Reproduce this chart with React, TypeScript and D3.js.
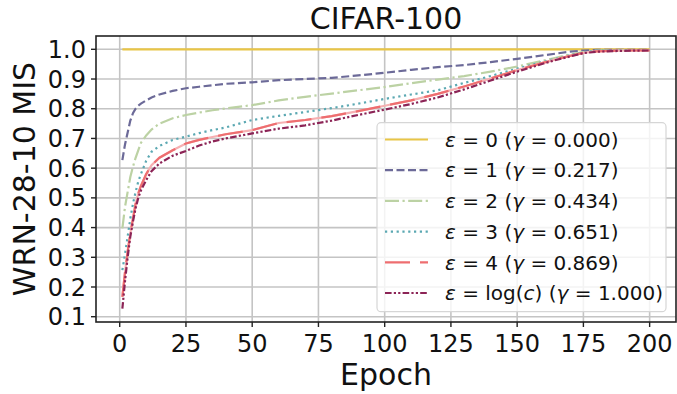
import * as d3 from 'd3';
import React from 'react';

const epochs = [1, 2, 3, 4, 5, 6, 7, 8, 10, 12, 15, 20, 25, 30, 35, 40, 50, 60, 70, 80, 90, 100, 110, 120, 130, 140, 150, 160, 165, 170, 175, 180, 190, 200];

const eps0 = [1, 1, 1, 1, 1, 1, 1, 1, 1, 1, 1, 1, 1, 1, 1, 1, 1, 1, 1, 1, 1, 1, 1, 1, 1, 1, 1, 1, 1, 1, 1, 1, 1, 1];
const eps1 = [0.627, 0.68, 0.72, 0.76, 0.785, 0.8, 0.81, 0.817, 0.828, 0.838, 0.848, 0.86, 0.869, 0.874, 0.879, 0.884, 0.889, 0.896, 0.9, 0.904, 0.912, 0.921, 0.931, 0.94, 0.947, 0.957, 0.968, 0.98, 0.986, 0.992, 0.996, 0.998, 0.998, 0.998];
const eps2 = [0.397, 0.47, 0.52, 0.57, 0.605, 0.635, 0.66, 0.685, 0.71, 0.73, 0.75, 0.768, 0.779, 0.787, 0.795, 0.801, 0.812, 0.828, 0.84, 0.851, 0.862, 0.873, 0.886, 0.898, 0.91, 0.925, 0.942, 0.962, 0.972, 0.983, 0.991, 0.996, 0.997, 0.997];
const eps3 = [0.257, 0.31, 0.37, 0.43, 0.48, 0.52, 0.555, 0.58, 0.625, 0.655, 0.675, 0.695, 0.706, 0.718, 0.728, 0.737, 0.762, 0.776, 0.789, 0.802, 0.817, 0.833, 0.848, 0.862, 0.887, 0.91, 0.935, 0.958, 0.969, 0.98, 0.99, 0.995, 0.997, 0.997];
const eps4 = [0.167, 0.25, 0.32, 0.38, 0.43, 0.48, 0.515, 0.54, 0.58, 0.61, 0.635, 0.66, 0.683, 0.695, 0.705, 0.714, 0.728, 0.752, 0.762, 0.775, 0.792, 0.81, 0.828, 0.85, 0.875, 0.902, 0.93, 0.955, 0.967, 0.978, 0.988, 0.993, 0.996, 0.996];
const epsLog = [0.127, 0.22, 0.3, 0.37, 0.42, 0.465, 0.5, 0.525, 0.56, 0.59, 0.616, 0.642, 0.658, 0.676, 0.69, 0.7, 0.717, 0.733, 0.744, 0.76, 0.779, 0.797, 0.816, 0.838, 0.865, 0.895, 0.925, 0.952, 0.965, 0.976, 0.987, 0.992, 0.995, 0.996];

const epsLabels = ['0', '1', '2', '3', '4', 'log'];
const gammaLabels = ['0.000', '0.217', '0.434', '0.651', '0.869', '1.000'];
const xTicks = [0, 25, 50, 75, 100, 125, 150, 175, 200];
const yTicks = [0.1, 0.2, 0.3, 0.4, 0.5, 0.6, 0.7, 0.8, 0.9, 1.0];

const W = 677;
const H = 394;
const m = { left: 96, right: 676, top: 36, bottom: 322 };
const font = 'DejaVu Sans';

const series = [
    { values: eps0, color: '#e8c547', dash: null },
    { values: eps1, color: '#6c6a98', dash: '8,3.5' },
    { values: eps2, color: '#bcd2a4', dash: '14,3.5,2.2,3.5' },
    { values: eps3, color: '#5ba8b2', dash: '2.2,3.6' },
    { values: eps4, color: '#ee6e70', dash: '25,10', under: '#f6b0b2' },
    { values: epsLog, color: '#8c2456', dash: '6.6,2.2,2.2,2.2,2.2,2.2' },
];

export default () => {
    const x = d3.scaleLinear().domain([-8.95, 209.95]).range([m.left, m.right]);
    const y = d3.scaleLinear().domain([0.0822, 1.0448]).range([m.bottom, m.top]);

    const line = d3.line<number>()
        .x((_, i) => x(epochs[i]))
        .y((d) => y(d));

    const legendX = 377;
    const legendY = 122.7;
    const rowY = (i: number) => 139.5 + 30.7 * i;

    return (
        <svg width={W} height={H} style={{ position: 'absolute', left: 0, top: 0, background: '#fff' }} fontFamily={font}>
            <rect x={0} y={0} width={W} height={H} fill="#fff" />
            {/* grid */}
            {xTicks.map((t) => (
                <line key={'gx' + t} x1={x(t)} x2={x(t)} y1={m.top} y2={m.bottom} stroke="#c4c4c4" strokeWidth={1.6} />
            ))}
            {yTicks.map((t) => (
                <line key={'gy' + t} x1={m.left} x2={m.right} y1={y(t)} y2={y(t)} stroke="#c4c4c4" strokeWidth={1.6} />
            ))}

            {/* curves */}
            {series.map((s, i) => (
                <g key={'s' + i}>
                    {s.under && <path d={line(s.values) || ''} fill="none" stroke={s.under} strokeWidth={2.2} />}
                    <path d={line(s.values) || ''} fill="none" stroke={s.color} strokeWidth={2.2}
                        strokeDasharray={s.dash || undefined} />
                </g>
            ))}

            {/* spines */}
            <rect x={m.left} y={m.top} width={m.right - m.left} height={m.bottom - m.top} fill="none" stroke="#222" strokeWidth={1.6} />

            {/* x axis */}
            {xTicks.map((t) => (
                <g key={'xt' + t}>
                    <line x1={x(t)} x2={x(t)} y1={m.bottom} y2={m.bottom + 5} stroke="#222" strokeWidth={1.4} />
                    <text x={x(t)} y={351.7} fontSize={24} textAnchor="middle" fill="#111">{t}</text>
                </g>
            ))}
            {/* y axis */}
            {yTicks.map((t) => (
                <g key={'yt' + t}>
                    <line x1={m.left - 5} x2={m.left} y1={y(t)} y2={y(t)} stroke="#222" strokeWidth={1.4} />
                    <text x={86} y={y(t) + 8.6} fontSize={24} textAnchor="end" fill="#111">{t.toFixed(1)}</text>
                </g>
            ))}

            <text x={(m.left + m.right) / 2} y={385} fontSize={30} textAnchor="middle" fill="#111">Epoch</text>
            <text transform={`translate(35, ${(m.top + m.bottom) / 2}) rotate(-90)`} fontSize={30} textAnchor="middle" fill="#111">WRN-28-10 MIS</text>
            <text x={(m.left + m.right) / 2} y={28.5} fontSize={30} textAnchor="middle" fill="#111">CIFAR-100</text>

            {/* legend */}
            <rect x={legendX} y={legendY} width={289} height={189} rx={4} fill="#fff" fillOpacity={0.8} stroke="#d6d6d6" strokeWidth={1.2} />
            {series.map((s, i) => (
                <g key={'l' + i}>
                    <line x1={385} x2={428} y1={rowY(i)} y2={rowY(i)} stroke={s.color} strokeWidth={2.2}
                        strokeDasharray={s.dash || undefined} />
                    <text x={445} y={rowY(i) + 7.2} fontSize={20} fill="#111">
                        <tspan fontStyle="italic">ε</tspan>
                        {' = '}
                        {epsLabels[i] === 'log' ? (
                            <>log(<tspan fontStyle="italic">c</tspan>)</>
                        ) : epsLabels[i]}
                        {' ('}
                        <tspan fontStyle="italic">γ</tspan>
                        {' = ' + gammaLabels[i] + ')'}
                    </text>
                </g>
            ))}
        </svg>
    );
};
